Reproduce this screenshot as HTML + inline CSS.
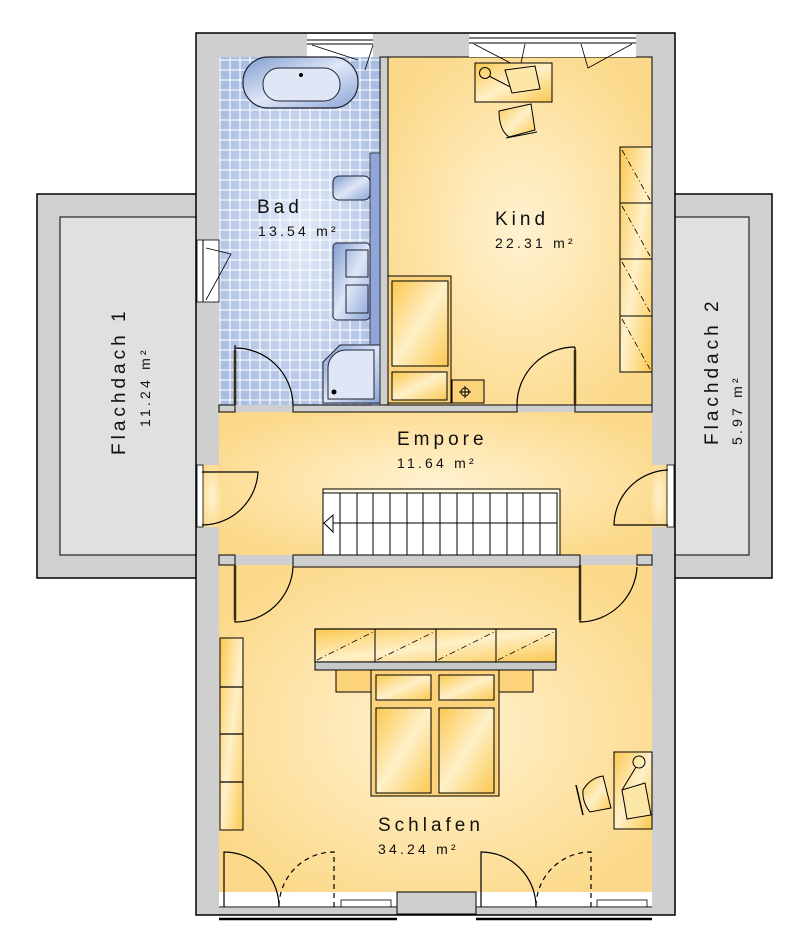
<!DOCTYPE html>
<html><head><meta charset="utf-8"><style>
html,body{margin:0;padding:0;background:#fff;}
svg{display:block}
text{font-family:"Liberation Sans",sans-serif;fill:#111;}
</style></head><body>
<svg width="800" height="951" viewBox="0 0 800 951" xmlns="http://www.w3.org/2000/svg">
<defs>
<radialGradient id="yel" cx="50%" cy="50%" r="60%">
<stop offset="0" stop-color="#fff2d2"/><stop offset="1" stop-color="#fcd98a"/></radialGradient>
<radialGradient id="blu" cx="50%" cy="50%" r="60%">
<stop offset="0" stop-color="#e2eaf8"/><stop offset="1" stop-color="#a9bde2"/></radialGradient>
<linearGradient id="furn" x1="0" y1="0" x2="1" y2="1">
<stop offset="0" stop-color="#fbc850"/><stop offset="0.5" stop-color="#fff0c8"/><stop offset="1" stop-color="#fbc850"/></linearGradient>
<pattern id="tiles" width="10" height="10" patternUnits="userSpaceOnUse">
<rect width="10" height="10" fill="none" stroke="#fff" stroke-width="1.2" opacity="0.9"/></pattern>
<linearGradient id="bfix" x1="0" y1="0" x2="1" y2="1"><stop offset="0" stop-color="#7f9bd0"/><stop offset="0.5" stop-color="#dfe7f7"/><stop offset="1" stop-color="#8aa4d6"/></linearGradient>
</defs>

<rect x="37" y="194" width="160" height="384" fill="#d0d0d0" stroke="#000" stroke-width="1.5"/>
<rect x="60" y="217" width="137" height="338" fill="#e0e0e0" stroke="#000" stroke-width="1"/>
<rect x="674" y="194" width="98" height="384" fill="#d0d0d0" stroke="#000" stroke-width="1.5"/>
<rect x="674" y="217" width="75" height="338" fill="#e0e0e0" stroke="#000" stroke-width="1"/>

<rect x="196" y="33" width="479" height="882" fill="#cfcfcf" stroke="#000" stroke-width="1.5"/>

<rect x="219" y="57" width="161" height="348" fill="url(#blu)"/>
<rect x="219" y="57" width="161" height="348" fill="url(#tiles)"/>
<rect x="388" y="57" width="264" height="348" fill="url(#yel)" stroke="#000" stroke-width="1"/>
<rect x="219" y="412" width="433" height="143" fill="url(#yel)"/>
<rect x="219" y="565" width="433" height="327" fill="url(#yel)"/>
<rect x="202" y="465" width="20" height="62" fill="url(#yel)"/>
<rect x="650" y="465" width="18" height="62" fill="url(#yel)"/>

<rect x="380" y="57" width="8" height="348" fill="#cfcfcf" stroke="#000" stroke-width="1"/>
<rect x="219" y="405" width="16" height="7" fill="#cfcfcf" stroke="#000" stroke-width="1"/>
<rect x="293" y="405" width="224" height="7" fill="#cfcfcf" stroke="#000" stroke-width="1"/>
<rect x="575" y="405" width="77" height="7" fill="#cfcfcf" stroke="#000" stroke-width="1"/>
<rect x="219" y="555" width="16" height="10" fill="#cfcfcf" stroke="#000" stroke-width="1"/>
<rect x="293" y="555" width="287" height="12" fill="#cfcfcf" stroke="#000" stroke-width="1"/>
<rect x="637" y="555" width="15" height="10" fill="#cfcfcf" stroke="#000" stroke-width="1"/>

<rect x="307" y="34" width="66" height="23" fill="#fff"/>
<line x1="307" y1="40" x2="373" y2="40" stroke="#000"/><line x1="307" y1="44" x2="373" y2="44" stroke="#000"/>
<path d="M312 45 L358 60 M373 45 L365 70" stroke="#000" fill="none" stroke-width="0.8"/>
<rect x="469" y="34" width="167" height="23" fill="#fff"/>
<line x1="469" y1="38" x2="636" y2="38" stroke="#000"/><line x1="469" y1="43" x2="636" y2="43" stroke="#000"/>
<path d="M474 44 L520 68 M525 44 L520 68 M581 44 L588 68 L632 44" stroke="#000" fill="none" stroke-width="0.8"/>
<rect x="197" y="240" width="22" height="62" fill="#fff" stroke="#000" stroke-width="0.8"/>
<line x1="203" y1="240" x2="203" y2="302" stroke="#000"/>
<path d="M206 248 L231 254 L206 300" stroke="#000" fill="none" stroke-width="0.8"/>
<rect x="197" y="465" width="6" height="62" fill="#fff" stroke="#000" stroke-width="0.8"/>
<rect x="667" y="465" width="7" height="62" fill="#fff" stroke="#000" stroke-width="0.8"/>

<rect x="219" y="892" width="178" height="16" fill="#fff"/>
<rect x="476" y="892" width="176" height="16" fill="#fff"/>
<rect x="397" y="892" width="79" height="22" fill="#cfcfcf" stroke="#000" stroke-width="1"/>
<line x1="219" y1="907" x2="397" y2="907" stroke="#000"/><line x1="476" y1="907" x2="652" y2="907" stroke="#000"/>
<line x1="219" y1="919" x2="397" y2="919" stroke="#000" stroke-width="2.5"/>
<line x1="476" y1="919" x2="652" y2="919" stroke="#000" stroke-width="2.5"/>
<rect x="341" y="900" width="50" height="7" fill="none" stroke="#000" stroke-width="0.8"/>
<rect x="597" y="900" width="50" height="7" fill="none" stroke="#000" stroke-width="0.8"/>

<g stroke="#000" fill="none" stroke-width="1.2">
<path d="M235 345 L235 405 M235 348 A58 58 0 0 1 293 405"/>
<path d="M575 347 L575 405 M575 347 A58 58 0 0 0 517 405"/>
<path d="M202 472 L258 472 A56 56 0 0 1 202 525"/>
<path d="M668 525 L614 525 A56 56 0 0 1 668 470"/>
<path d="M235 565 L235 622 A58 58 0 0 0 293 567"/>
<path d="M580 565 L580 622 A58 58 0 0 0 637 567"/>
<path d="M224 907 L224 852 A55 55 0 0 1 279 907"/>
<path d="M481 907 L481 852 A55 55 0 0 1 536 907"/>
</g>
<g stroke="#000" fill="none" stroke-width="1.2" stroke-dasharray="5 4">
<path d="M334 907 L334 852 A55 55 0 0 0 279 907"/>
<path d="M591 907 L591 852 A55 55 0 0 0 536 907"/>
</g>
<g stroke="#3a2a10" stroke-width="2.5">
<line x1="235" y1="350" x2="235" y2="405"/><line x1="575" y1="350" x2="575" y2="405"/>
<line x1="235" y1="565" x2="235" y2="620"/><line x1="580" y1="565" x2="580" y2="620"/>
</g>

<rect x="323" y="489" width="237" height="66" fill="#fff8e0" stroke="#000" stroke-width="1"/>
<rect x="323" y="493" width="234" height="62" fill="#fff" stroke="#000" stroke-width="1"/>
<line x1="323" y1="523" x2="557" y2="523" stroke="#000"/>
<g stroke="#000">
<line x1="340" y1="493" x2="340" y2="555"/><line x1="357" y1="493" x2="357" y2="555"/><line x1="373" y1="493" x2="373" y2="555"/><line x1="390" y1="493" x2="390" y2="555"/><line x1="407" y1="493" x2="407" y2="555"/><line x1="423" y1="493" x2="423" y2="555"/><line x1="440" y1="493" x2="440" y2="555"/><line x1="457" y1="493" x2="457" y2="555"/><line x1="473" y1="493" x2="473" y2="555"/><line x1="490" y1="493" x2="490" y2="555"/><line x1="507" y1="493" x2="507" y2="555"/><line x1="523" y1="493" x2="523" y2="555"/><line x1="540" y1="493" x2="540" y2="555"/>
</g>
<path d="M333 515 L324 523 L333 532 Z" fill="#fff" stroke="#000"/>

<rect x="243" y="57" width="115" height="51" rx="25" fill="url(#bfix)" stroke="#223" stroke-width="1.2"/>
<rect x="263" y="68" width="77" height="33" rx="16" fill="#dfe7f7" stroke="#223"/>
<circle cx="301" cy="75" r="2" fill="#000"/>
<rect x="370" y="153" width="10" height="252" fill="#8ea7d6" stroke="#223" stroke-width="0.8"/>
<rect x="333" y="176" width="37" height="24" rx="6" fill="url(#bfix)" stroke="#223"/>
<rect x="333" y="243" width="37" height="77" rx="4" fill="url(#bfix)" stroke="#223"/>
<rect x="346" y="250" width="22" height="27" fill="none" stroke="#223"/>
<rect x="346" y="285" width="22" height="28" fill="none" stroke="#223"/>
<path d="M323 362 L340 345 L380 345 L380 403 L323 403 Z" fill="url(#bfix)" stroke="#223"/>
<path d="M328 399 L328 368 A18 18 0 0 1 346 350 L374 350 L374 399 Z" fill="#dfe7f7" stroke="#223"/>
<circle cx="334" cy="392" r="2.5" fill="#000"/>

<rect x="475" y="63" width="77" height="39" fill="url(#furn)" stroke="#000"/>
<circle cx="485" cy="73" r="5.5" fill="none" stroke="#000"/>
<path d="M489 76 L520 92" stroke="#000"/>
<path d="M505 70 L535 66 L540 89 L512 93 Z" fill="#fde7a8" stroke="#000"/>
<path d="M499 111 L531 104 L535 130 L509 137 Q499 130 499 111 Z" fill="url(#furn)" stroke="#000"/>
<path d="M506 138 L537 132" stroke="#000"/>
<rect x="620" y="147" width="32" height="225" fill="url(#furn)" stroke="#000"/>
<g stroke="#000"><line x1="620" y1="203" x2="652" y2="203"/><line x1="620" y1="259" x2="652" y2="259"/><line x1="620" y1="316" x2="652" y2="316"/></g>
<g stroke="#000" stroke-dasharray="6 3 1 3" stroke-width="0.8"><line x1="622" y1="150" x2="650" y2="200"/><line x1="622" y1="206" x2="650" y2="256"/><line x1="622" y1="262" x2="650" y2="312"/><line x1="622" y1="319" x2="650" y2="369"/></g>
<rect x="388" y="276" width="63" height="127" fill="#fcd27a" stroke="#000"/>
<rect x="392" y="281" width="56" height="85" fill="url(#furn)" stroke="#000"/>
<rect x="392" y="372" width="55" height="28" fill="url(#furn)" stroke="#000"/>
<rect x="452" y="380" width="32" height="23" fill="#fcd27a" stroke="#000"/>
<circle cx="465" cy="392" r="4" fill="none" stroke="#000"/><path d="M459 392 L471 392 M465 386 L465 398" stroke="#000"/>

<rect x="315" y="629" width="241" height="33" fill="url(#furn)" stroke="#000" stroke-width="1.2"/>
<g stroke="#000"><line x1="375" y1="629" x2="375" y2="662"/><line x1="436" y1="629" x2="436" y2="662"/><line x1="496" y1="629" x2="496" y2="662"/></g>
<g stroke="#000" stroke-dasharray="6 3 1 3" stroke-width="0.8"><line x1="317" y1="660" x2="373" y2="632"/><line x1="377" y1="660" x2="434" y2="632"/><line x1="438" y1="660" x2="494" y2="632"/><line x1="498" y1="660" x2="554" y2="632"/></g>
<rect x="315" y="662" width="241" height="8" fill="#c8c8c8" stroke="#000"/>
<rect x="336" y="670" width="35" height="22" fill="#fcd27a" stroke="#000"/>
<rect x="499" y="670" width="34" height="22" fill="#fcd27a" stroke="#000"/>
<rect x="371" y="670" width="128" height="126" fill="#fcd27a" stroke="#000"/>
<rect x="376" y="675" width="55" height="25" fill="url(#furn)" stroke="#000"/>
<rect x="439" y="675" width="55" height="25" fill="url(#furn)" stroke="#000"/>
<rect x="376" y="708" width="55" height="85" fill="url(#furn)" stroke="#000"/>
<rect x="439" y="708" width="55" height="85" fill="url(#furn)" stroke="#000"/>
<rect x="220" y="638" width="23" height="192" fill="url(#furn)" stroke="#000"/>
<g stroke="#000" stroke-width="1.2"><line x1="220" y1="687" x2="243" y2="687"/><line x1="220" y1="734" x2="243" y2="734"/><line x1="220" y1="782" x2="243" y2="782"/></g>
<rect x="614" y="752" width="38" height="77" fill="url(#furn)" stroke="#000"/>
<circle cx="639" cy="762" r="6" fill="none" stroke="#000"/>
<path d="M636 767 L622 790" stroke="#000"/>
<path d="M622 790 L645 783 L651 815 L627 819 Z" fill="#fde7a8" stroke="#000"/>
<path d="M583 790 Q590 778 603 776 L611 808 L590 812 Q582 802 583 790 Z" fill="url(#furn)" stroke="#000"/>
<path d="M576 785 L583 815" stroke="#000" stroke-width="1.5"/>

<text x="257" y="213" font-size="19" letter-spacing="4">Bad</text>
<text x="258" y="236" font-size="14" letter-spacing="3.2">13.54 m²</text>
<text x="495" y="225" font-size="19" letter-spacing="4">Kind</text>
<text x="495" y="248" font-size="14" letter-spacing="3.2">22.31 m²</text>
<text x="397" y="445" font-size="19" letter-spacing="4">Empore</text>
<text x="397" y="468" font-size="14" letter-spacing="3.2">11.64 m²</text>
<text x="378" y="831" font-size="19" letter-spacing="4">Schlafen</text>
<text x="378" y="854" font-size="14" letter-spacing="3.2">34.24 m²</text>
<text transform="translate(125,455) rotate(-90)" font-size="19" letter-spacing="4">Flachdach 1</text>
<text transform="translate(150,427) rotate(-90)" font-size="14" letter-spacing="3.2">11.24 m²</text>
<text transform="translate(718,445) rotate(-90)" font-size="19" letter-spacing="4">Flachdach 2</text>
<text transform="translate(742,445) rotate(-90)" font-size="14" letter-spacing="3.2">5.97 m²</text>
</svg>
</body></html>
